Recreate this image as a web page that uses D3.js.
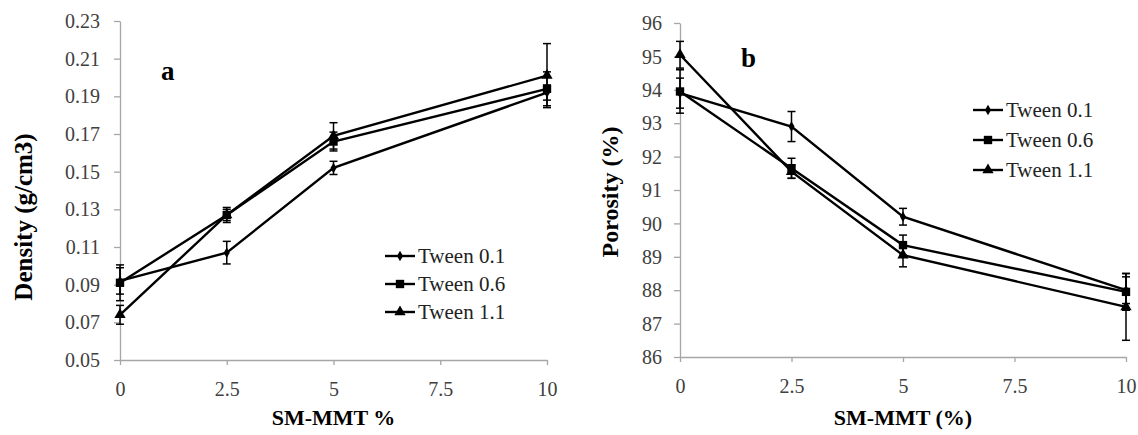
<!DOCTYPE html>
<html>
<head>
<meta charset="utf-8">
<script src="https://cdn.jsdelivr.net/npm/d3@7"></script>
<style>
  body { margin: 0; background: #fff; }
  svg text { font-family: "Liberation Serif", "Times New Roman", serif; }
  .tick text { fill: #404040; }
  .domain, .tick line { stroke: #a6a6a6; stroke-width: 1.3px; }
</style>
</head>
<body>
<svg id="chart" width="1138" height="435"></svg>
<script>
"use strict";

const FONT = "Liberation Serif, Times New Roman, serif";

const SM_MMT = [0, 2.5, 5, 10];
const SERIES = ["Tween 0.1", "Tween 0.6", "Tween 1.1"];
const MARKERS = ["diamond", "square", "triangle"];

// panel a - density (g/cm3)
const densityT01 = [0.092, 0.107, 0.152, 0.192];
const densityT06 = [0.091, 0.127, 0.166, 0.194];
const densityT11 = [0.074, 0.127, 0.169, 0.201];
const densityT01Err = [0.007, 0.006, 0.0035, 0.004];
const densityT06Err = [0.0095, 0.004, 0.005, 0.009];
const densityT11Err = [0.005, 0.003, 0.007, 0.017];
const densityTicks = [0.05, 0.07, 0.09, 0.11, 0.13, 0.15, 0.17, 0.19, 0.21, 0.23];

// panel b - porosity (%)
const porosityT01 = [93.9, 92.9, 90.2, 88.0];
const porosityT06 = [93.95, 91.65, 89.35, 87.95];
const porosityT11 = [95.05, 91.55, 89.05, 87.5];
const porosityT01Err = [0.45, 0.45, 0.25, 0.4];
const porosityT06Err = [0.65, 0.3, 0.3, 0.55];
const porosityT11Err = [0.4, 0.2, 0.35, 1.0];
const porosityTicks = [86, 87, 88, 89, 90, 91, 92, 93, 94, 95, 96];

const xTicks = [0, 2.5, 5, 7.5, 10];

const svg = d3.select("#chart");

const symbolFor = {
  diamond: d3.symbol().type(d3.symbolDiamond).size(32),
  square: d3.symbol().type(d3.symbolSquare).size(70),
  triangle: d3.symbol().type(d3.symbolTriangle).size(55)
};

function drawPanel(cfg) {
  const x = d3.scaleLinear().domain([0, 10]).range([cfg.left, cfg.right]);
  const y = d3.scaleLinear().domain(cfg.yDomain).range([cfg.bottom, cfg.top]);

  const g = svg.append("g");

  g.append("g")
    .attr("transform", `translate(0,${cfg.bottom})`)
    .call(d3.axisBottom(x).tickValues(xTicks).tickSize(5).tickPadding(0)
      .tickFormat(d3.format("")).tickSizeOuter(0))
    .attr("font-family", FONT).attr("font-size", 20)
    .call((a) => a.selectAll(".tick text").attr("y", 36).attr("dy", null));

  g.append("g")
    .attr("transform", `translate(${cfg.left},0)`)
    .call(d3.axisLeft(y).tickValues(cfg.yTicks).tickSize(6).tickPadding(cfg.yPad)
      .tickFormat(cfg.yFormat).tickSizeOuter(0))
    .attr("font-family", FONT).attr("font-size", 20)
    .call((a) => a.selectAll(".tick text").attr("dy", "0.33em"));

  const line = d3.line().x((d) => x(d.x)).y((d) => y(d.v));

  cfg.series.forEach((s, i) => {
    const pts = SM_MMT.map((xv, j) => ({ x: xv, v: s.values[j], e: s.err[j] }));
    const sg = g.append("g");

    sg.append("path")
      .datum(pts)
      .attr("d", line)
      .attr("fill", "none")
      .attr("stroke", "#000")
      .attr("stroke-width", 2.4);

    const eb = sg.selectAll(".err").data(pts).enter().append("g");
    eb.append("line")
      .attr("x1", (d) => x(d.x)).attr("x2", (d) => x(d.x))
      .attr("y1", (d) => y(d.v - d.e)).attr("y2", (d) => y(d.v + d.e))
      .attr("stroke", "#000").attr("stroke-width", 1.5);
    [-1, 1].forEach((sgn) => {
      eb.append("line")
        .attr("x1", (d) => x(d.x) - 4).attr("x2", (d) => x(d.x) + 4)
        .attr("y1", (d) => y(d.v + sgn * d.e)).attr("y2", (d) => y(d.v + sgn * d.e))
        .attr("stroke", "#000").attr("stroke-width", 1.5);
    });

    sg.selectAll(".mk").data(pts).enter().append("path")
      .attr("d", symbolFor[MARKERS[i]])
      .attr("transform", (d) => `translate(${x(d.x)},${y(d.v)})`)
      .attr("fill", "#000");
  });

  // legend
  const lg = g.append("g");
  SERIES.forEach((name, i) => {
    const ly = cfg.legendY + i * cfg.legendStep;
    lg.append("line")
      .attr("x1", cfg.legendX).attr("x2", cfg.legendX + 30)
      .attr("y1", ly).attr("y2", ly)
      .attr("stroke", "#000").attr("stroke-width", 2.4);
    lg.append("path")
      .attr("d", symbolFor[MARKERS[i]])
      .attr("transform", `translate(${cfg.legendX + 15},${ly})`);
    lg.append("text")
      .attr("x", cfg.legendX + 33).attr("y", ly)
      .attr("dy", "0.33em")
      .attr("font-family", FONT)
      .attr("font-size", 21)
      .attr("fill", "#222")
      .text(name);
  });

  // titles
  g.append("text")
    .attr("x", (cfg.left + cfg.right) / 2).attr("y", 425)
    .attr("text-anchor", "middle")
    .attr("font-family", FONT)
    .attr("font-size", 22).attr("font-weight", "bold")
    .text(cfg.xTitle);

  g.append("text")
    .attr("transform", `translate(${cfg.yTitleX},${cfg.yTitleY}) rotate(-90)`)
    .attr("text-anchor", "middle")
    .attr("dy", "0.33em")
    .attr("font-family", FONT)
    .attr("font-size", cfg.yTitleSize).attr("font-weight", "bold")
    .text(cfg.yTitle);

  g.append("text")
    .attr("x", cfg.tagX).attr("y", cfg.tagY)
    .attr("font-family", FONT)
    .attr("font-size", 27).attr("font-weight", "bold")
    .text(cfg.tag);
}

drawPanel({
  left: 120, right: 547, top: 21, bottom: 360,
  yDomain: [0.05, 0.23], yTicks: densityTicks, yFormat: d3.format(".2f"), yPad: 14,
  series: [
    { values: densityT01, err: densityT01Err },
    { values: densityT06, err: densityT06Err },
    { values: densityT11, err: densityT11Err }
  ],
  legendX: 385, legendY: 256, legendStep: 28,
  xTitle: "SM-MMT %", yTitle: "Density (g/cm3)", yTitleX: 24, yTitleY: 217, yTitleSize: 25,
  tag: "a", tagX: 161, tagY: 80
});

drawPanel({
  left: 680, right: 1126, top: 23, bottom: 357,
  yDomain: [86, 96], yTicks: porosityTicks, yFormat: d3.format("d"), yPad: 12,
  series: [
    { values: porosityT01, err: porosityT01Err },
    { values: porosityT06, err: porosityT06Err },
    { values: porosityT11, err: porosityT11Err }
  ],
  legendX: 973, legendY: 110, legendStep: 30,
  xTitle: "SM-MMT (%)", yTitle: "Porosity (%)", yTitleX: 610, yTitleY: 192, yTitleSize: 24,
  tag: "b", tagX: 741, tagY: 67
});
</script>
</body>
</html>
